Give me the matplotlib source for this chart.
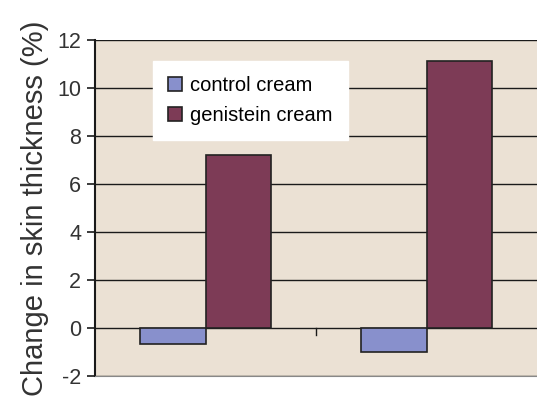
import numpy as np
import matplotlib
matplotlib.use("Agg")
import matplotlib.pyplot as plt

plt.rcParams['font.family'] = ['Liberation Sans', 'DejaVu Sans']

groups = [0, 1]
control = [-0.65, -1.0]
genistein = [7.2, 11.15]
series_names = ["control cream", "genistein cream"]
yticks = [-2, 0, 2, 4, 6, 8, 10, 12]

fig = plt.figure(figsize=(5.37, 4.01), dpi=100)
ax = fig.add_axes([0.177, 0.062, 0.823, 0.838])
ax.set_facecolor("#ebe1d4")

x = np.array(groups)
w = 0.295
ax.bar(x - w / 2, control, w, color="#8890cc", edgecolor="#222222", linewidth=1.2,
       label=series_names[0], zorder=3)
ax.bar(x + w / 2, genistein, w, color="#7d3b56", edgecolor="#222222", linewidth=1.2,
       label=series_names[1], zorder=3)

for t in yticks:
    ax.axhline(t, color="#1a1a1a", linewidth=1.0, zorder=1)
# category separator tick on the zero line
ax.plot([0.5, 0.5], [0, -0.3], color="#1a1a1a", linewidth=1.0, zorder=2)

ax.set_xlim(-0.5, 1.5)
ax.set_ylim(-2, 12)
ax.set_yticks(yticks)
ax.set_yticklabels([str(t) for t in yticks], fontsize=15.5, color="#333333")
ax.set_xticks([])
ax.tick_params(axis="y", length=6, width=1.2, color="#1a1a1a", pad=4)

ax.spines["left"].set_color("#1a1a1a")
ax.spines["left"].set_linewidth(1.5)
ax.spines["bottom"].set_color("#888888")
ax.spines["top"].set_visible(False)
ax.spines["right"].set_visible(False)

ax.set_ylabel("Change in skin thickness (%)", fontsize=21, color="#333333", labelpad=6)

leg = ax.legend(loc="upper left", bbox_to_anchor=(0.131, 0.9375), fontsize=14.5,
                frameon=True, fancybox=False, edgecolor="white", facecolor="white",
                framealpha=1, handlelength=0.7, handleheight=0.7, borderpad=0.75,
                labelspacing=0.55, handletextpad=0.4, borderaxespad=0)
leg.set_zorder(5)

fig.savefig("out.png", dpi=100)
